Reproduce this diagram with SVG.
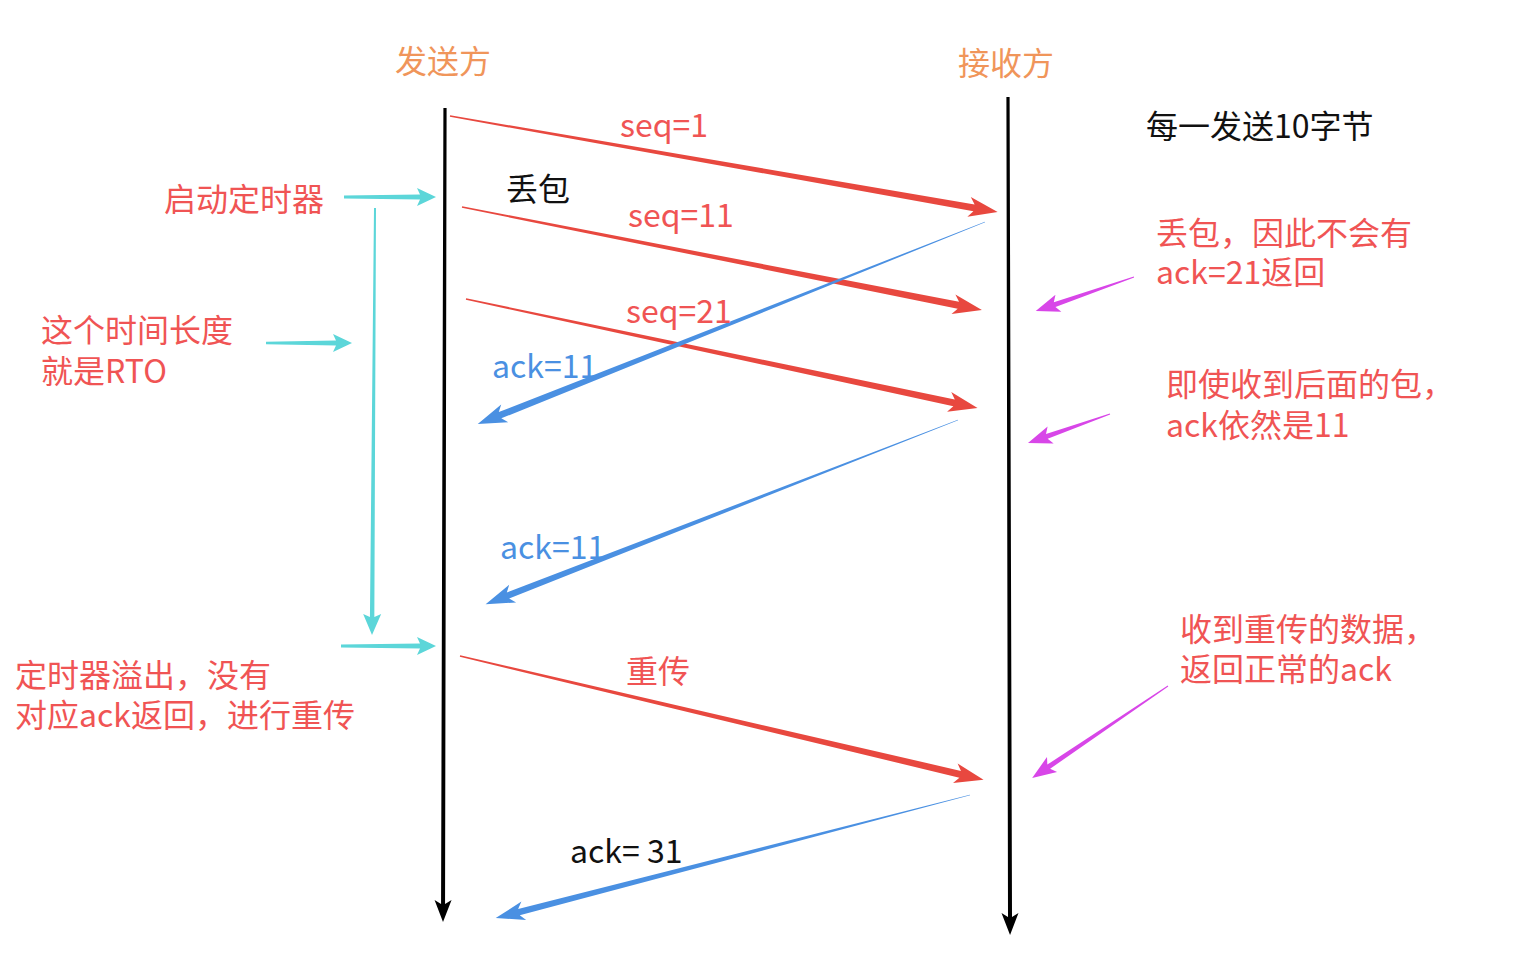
<svg xmlns="http://www.w3.org/2000/svg" width="1532" height="968" viewBox="0 0 1532 968">
<style>
text{font-family:"Noto Sans CJK SC","Liberation Sans",sans-serif;font-size:32px}
.red{fill:#f05454}
.org{fill:#f0955a}
.blu{fill:#4a90e2}
.blk{fill:#111}
.lr{fill:#e8483f}
.lb{fill:#4a90e2}
.lc{fill:#5cd6d9}
.lm{fill:#d846e8}
.lk{fill:#000}
</style>
<rect width="1532" height="968" fill="#fff"/>
<g id="connectors">
  <g id="sender-line" transform="translate(445,108) rotate(90.14)"><polygon class="lk" points="0,-1.6 796,-2 792,-8.5 814,0 792,8.5 796,2 0,1.6"/></g>
  <g id="receiver-line" transform="translate(1008,97) rotate(89.86)"><polygon class="lk" points="0,-1.6 820,-2 816,-8.5 838,0 816,8.5 820,2 0,1.6"/></g>
  <g transform="translate(450,116) rotate(9.94)"><polygon class="lr" points="0,-0.8 532,-3.5 527,-10 556,0 527,10 532,3.5 0,0.8"/></g>
  <g transform="translate(462,207) rotate(11.2)"><polygon class="lr" points="0,-0.8 506,-3.5 501,-10 530,0 501,10 506,3.5 0,0.8"/></g>
  <g transform="translate(466,299) rotate(12.02)"><polygon class="lr" points="0,-0.8 499,-3.5 494,-10 523,0 494,10 499,3.5 0,0.8"/></g>
  <g transform="translate(460,656) rotate(13.31)"><polygon class="lr" points="0,-0.8 514,-3.5 509,-10 538,0 509,10 514,3.5 0,0.8"/></g>
  <g transform="translate(985,222) rotate(158.28)"><polygon class="lb" points="0,-0.3 522,-3.4 517,-9.5 546,0 517,9.5 522,3.4 0,0.3"/></g>
  <g transform="translate(958,420) rotate(158.7)"><polygon class="lb" points="0,-0.3 483,-3.2 478,-9.5 507,0 478,9.5 483,3.2 0,0.3"/></g>
  <g transform="translate(970,795) rotate(165.45)"><polygon class="lb" points="0,-0.3 466,-3.2 461,-9.5 490,0 461,9.5 466,3.2 0,0.3"/></g>
  <g transform="translate(344,197)"><polygon class="lc" points="0,-1.5 76,-2.5 73,-9 92,0 73,9 76,2.5 0,1.5"/></g>
  <g transform="translate(375,208) rotate(90.4)"><polygon class="lc" points="0,-1 409,-2.2 406,-9 427,0 406,9 409,2.2 0,1"/></g>
  <g transform="translate(266,343)"><polygon class="lc" points="0,-1.2 70,-2.5 67,-9 86,0 67,9 70,2.5 0,1.2"/></g>
  <g transform="translate(341,646)"><polygon class="lc" points="0,-1.5 79,-2.5 76,-9 95,0 76,9 79,2.5 0,1.5"/></g>
  <g transform="translate(1134,277) rotate(160.87)"><polygon class="lm" points="0,-0.5 84,-2.5 80,-9 104,0 80,9 84,2.5 0,0.5"/></g>
  <g transform="translate(1110,414) rotate(160.52)"><polygon class="lm" points="0,-0.5 67,-2.5 63,-9 87,0 63,9 67,2.5 0,0.5"/></g>
  <g transform="translate(1168,686) rotate(145.92)"><polygon class="lm" points="0,-0.5 144,-2.5 140,-9 164,0 140,9 144,2.5 0,0.5"/></g>
</g>
<g id="sender"><text class="org" x="395" y="73">发送方</text></g>
<g id="receiver"><text class="org" x="958" y="75">接收方</text></g>
<g id="note-bytes"><text class="blk" x="1146" y="138">每一发送10字节</text></g>
<g id="label-seq1"><text class="red" x="620" y="137">seq=1</text></g>
<g id="label-lost"><text class="blk" x="506" y="201">丢包</text></g>
<g id="label-seq11"><text class="red" x="628" y="227">seq=11</text></g>
<g id="label-seq21"><text class="red" x="626" y="323">seq=21</text></g>
<g id="label-ack11a"><text class="blu" x="492" y="378">ack=11</text></g>
<g id="label-ack11b"><text class="blu" x="500" y="559">ack=11</text></g>
<g id="label-resend"><text class="red" x="626" y="683">重传</text></g>
<g id="label-ack31"><text class="blk" x="570" y="863">ack= 31</text></g>
<g id="note-start-timer"><text class="red" x="164" y="211">启动定时器</text></g>
<g id="note-rto"><text class="red" x="41" y="342">这个时间长度</text><text class="red" x="41" y="383">就是RTO</text></g>
<g id="note-timeout"><text class="red" x="15" y="687">定时器溢出，没有</text><text class="red" x="15" y="727">对应ack返回，进行重传</text></g>
<g id="note-lost"><text class="red" x="1156" y="245">丢包，因此不会有</text><text class="red" x="1156" y="284">ack=21返回</text></g>
<g id="note-still11"><text class="red" x="1166" y="396">即使收到后面的包，</text><text class="red" x="1166" y="437">ack依然是11</text></g>
<g id="note-resent"><text class="red" x="1180" y="641">收到重传的数据，</text><text class="red" x="1180" y="681">返回正常的ack</text></g>
</svg>
